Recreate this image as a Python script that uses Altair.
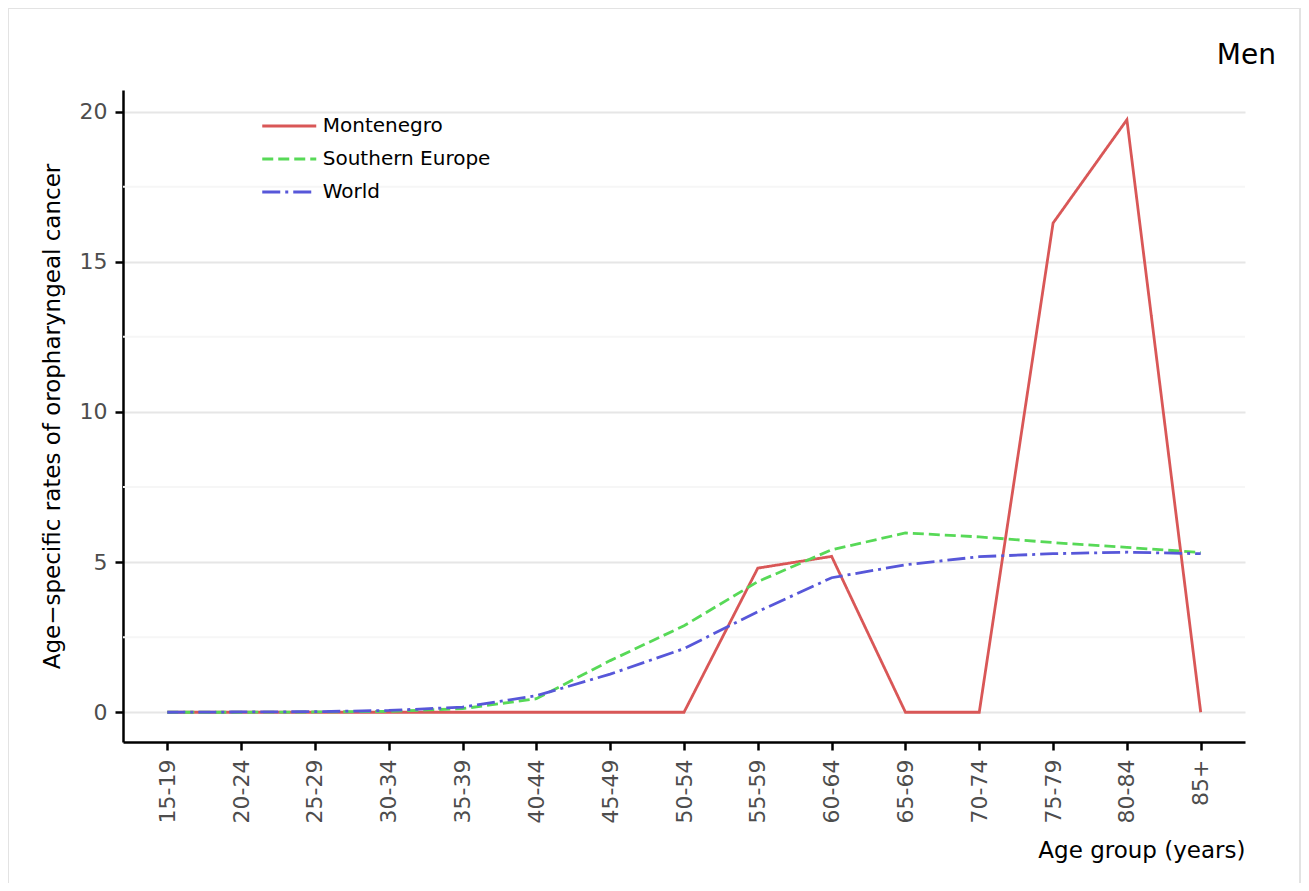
import altair as alt
import pandas as pd

ages = ["15-19", "20-24", "25-29", "30-34", "35-39", "40-44", "45-49", "50-54",
        "55-59", "60-64", "65-69", "70-74", "75-79", "80-84", "85+"]
series_names = ["Montenegro", "Southern Europe", "World"]
montenegro = [0, 0, 0, 0, 0, 0, 0, 0, 4.80, 5.19, 0, 0, 16.29, 19.73, 0]
southern_europe = [0, 0, 0.01, 0.03, 0.12, 0.45, 1.72, 2.88, 4.35, 5.41, 5.97, 5.84, 5.65, 5.49, 5.32]
world = [0, 0.01, 0.02, 0.06, 0.17, 0.55, 1.27, 2.12, 3.35, 4.48, 4.91, 5.18, 5.28, 5.33, 5.28]
colors = ["#D95757", "#57D957", "#5757D9"]
dashes = [[1, 0], [11, 5], [18, 5, 3, 5]]
y_major = [0, 5, 10, 15, 20]
y_minor = [2.5, 7.5, 12.5, 17.5]
panel_title = ["Men"]

rows = []
for name, vals in zip(series_names, [montenegro, southern_europe, world]):
    for a, v in zip(ages, vals):
        rows.append({"age": a, "rate": v, "series": name})
df = pd.DataFrame(rows)
minor_df = pd.DataFrame({"v": y_minor})

FONT = "DejaVu Sans"
ydom = [-0.99, 20.72]
yscale = alt.Scale(domain=ydom, nice=False, zero=False)

legend = alt.Legend(
    title=None, orient="none", legendX=139, legendY=21, padding=0,
    symbolType="M-2,0H2", symbolSize=729, symbolStrokeWidth=2.8,
    symbolOffset=12.25, labelOffset=18.5, rowPadding=8, labelLimit=400,
    labelFont=FONT, labelFontSize=20, labelColor="black",
)

frame = alt.Chart(pd.DataFrame({"k": [0]})).mark_rect(
    fillOpacity=0, stroke="#e3e3e3", strokeWidth=2
).encode(
    x=alt.value(-115), x2=alt.value(1177), y=alt.value(-82), y2=alt.value(900)
)

title_mark = alt.Chart(pd.DataFrame({"t": panel_title})).mark_text(
    font=FONT, fontSize=28, color="black", align="right", baseline="alphabetic"
).encode(text="t:N", x=alt.value(1153), y=alt.value(-26))

minor = alt.Chart(minor_df).mark_rule(color="#f6f6f6", strokeWidth=2).encode(
    y=alt.Y("v:Q", scale=yscale)
)

lines = alt.Chart(df).mark_line(strokeWidth=2.8).encode(
    x=alt.X("age:N", sort=ages, scale=alt.Scale(type="point", padding=0.6),
            axis=alt.Axis(title="Age group (years)", labelAngle=-90, grid=False,
                          titleAnchor="end", titlePadding=17, labelPadding=9)),
    y=alt.Y("rate:Q", scale=yscale,
            axis=alt.Axis(title="Age\u2212specific rates of oropharyngeal cancer",
                          values=y_major, grid=True, gridColor="#e6e6e6", gridWidth=2,
                          labelPadding=8, titlePadding=15)),
    color=alt.Color("series:N", scale=alt.Scale(domain=series_names, range=colors), legend=legend),
    strokeDash=alt.StrokeDash("series:N", scale=alt.Scale(domain=series_names, range=dashes), legend=legend),
    order=alt.Order("series:N"),
)

chart = alt.layer(frame, minor, lines, title_mark).properties(
    width=1122, height=652,
    autosize=alt.AutoSizeParams(type="none"),
    padding={"left": 115, "top": 82, "right": 56, "bottom": 141},
).configure_view(stroke=None).configure_axis(
    domainColor="black", domainWidth=2.5, tickColor="black", tickWidth=2.5, tickSize=8,
    labelColor="#4d4d4d", labelFont=FONT, labelFontSize=22,
    titleFont=FONT, titleFontSize=23, titleFontWeight="normal", titleColor="black",
)

chart.save("out.html", embed_options={"renderer": "svg", "actions": False})
